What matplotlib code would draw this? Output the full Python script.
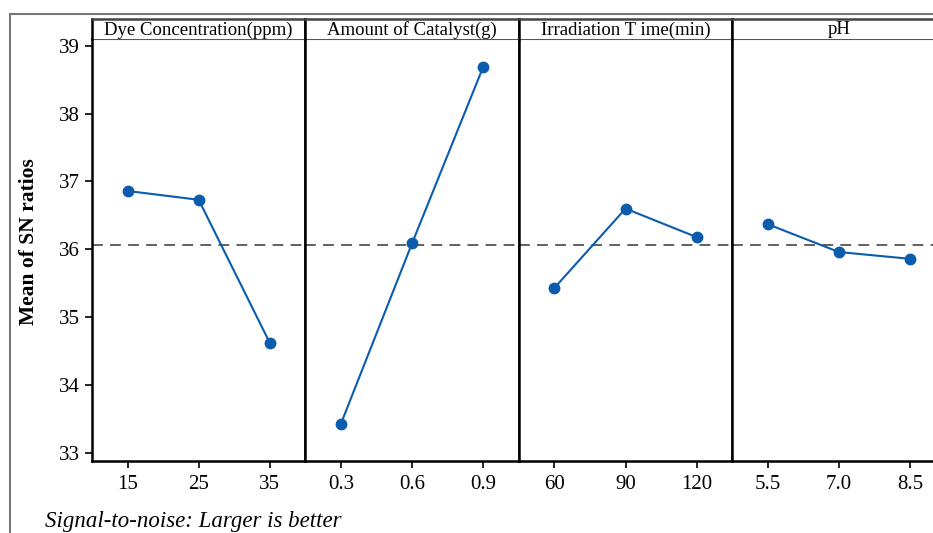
import matplotlib
matplotlib.use("Agg")
import matplotlib.pyplot as plt
from matplotlib.patches import Rectangle

factors = ["Dye Concentration(ppm)", "Amount of Catalyst(g)", "Irradiation T ime(min)", "pH"]
levels = [["15", "25", "35"], ["0.3", "0.6", "0.9"], ["60", "90", "120"], ["5.5", "7.0", "8.5"]]
sn_means = [
    [36.86, 36.73, 34.62],
    [33.43, 36.09, 38.69],
    [35.43, 36.60, 36.18],
    [36.37, 35.96, 35.86],
]
overall_mean = 36.07
y_ticks = [33, 34, 35, 36, 37, 38, 39]

W, H = 933, 533
fig = plt.figure(figsize=(W / 100, H / 100), dpi=100)
plt.rcParams['font.family'] = ['Liberation Serif', 'DejaVu Serif']

def fx(px):
    return px / W

def fy(py):
    return 1 - py / H

# outer gray frame
fig.patches.append(Rectangle((fx(10), fy(540)), fx(940) - fx(10), fy(14) - fy(540),
                             transform=fig.transFigure, fill=False, edgecolor="#777777",
                             linewidth=1.5, clip_on=False))

left0 = 92
pw = 213.4
top_px, bot_px, strip_top = 39, 461, 19
line_color = "#0b5cad"

for i in range(4):
    l = left0 + pw * i
    ax = fig.add_axes([fx(l), fy(bot_px), fx(pw), fy(top_px) - fy(bot_px)])
    xs = [1, 2, 3]
    ax.plot(xs, sn_means[i], color=line_color, lw=1.5, marker="o", ms=7.5,
            markerfacecolor=line_color, markeredgecolor=line_color, zorder=3)
    ax.axhline(overall_mean, color="#555555", lw=1.3, ls=(0, (6, 4)), zorder=2)
    ax.set_xlim(0.5, 3.5)
    ax.set_ylim(32.88, 39.10)
    ax.set_xticks(xs)
    ax.set_xticklabels(levels[i], fontsize=15)
    ax.tick_params(axis="x", direction="out", length=5, width=1.2, pad=5)
    ax.set_yticks(y_ticks)
    if i == 0:
        ax.set_yticklabels([str(t) for t in y_ticks], fontsize=15)
        ax.tick_params(axis="y", direction="out", length=5, width=1.2, pad=4)
        ax.set_ylabel("Mean of SN ratios", fontsize=15.5, fontweight="bold")
        ax.yaxis.set_label_coords(-0.25, 0.52)
    else:
        ax.tick_params(axis="y", left=False, labelleft=False)
    for s in ax.spines.values():
        s.set_linewidth(1.8)
        s.set_color("black")
    ax.spines["top"].set_linewidth(1.5)
    ax.spines["top"].set_color("#555555")

    sx = fig.add_axes([fx(l), fy(top_px), fx(pw), fy(strip_top) - fy(top_px)])
    sx.set_xticks([])
    sx.set_yticks([])
    for s in sx.spines.values():
        s.set_linewidth(1.8)
        s.set_color("black")
    sx.spines["top"].set_color("#444444")
    sx.spines["bottom"].set_visible(False)
    sx.text(0.5, 0.45, factors[i], ha="center", va="center", fontsize=13.5,
            transform=sx.transAxes)

fig.text(fx(45), fy(522), "Signal-to-noise: Larger is better", fontsize=16.5,
         style="italic", ha="left", va="center")

fig.savefig("out.png", dpi=100)
